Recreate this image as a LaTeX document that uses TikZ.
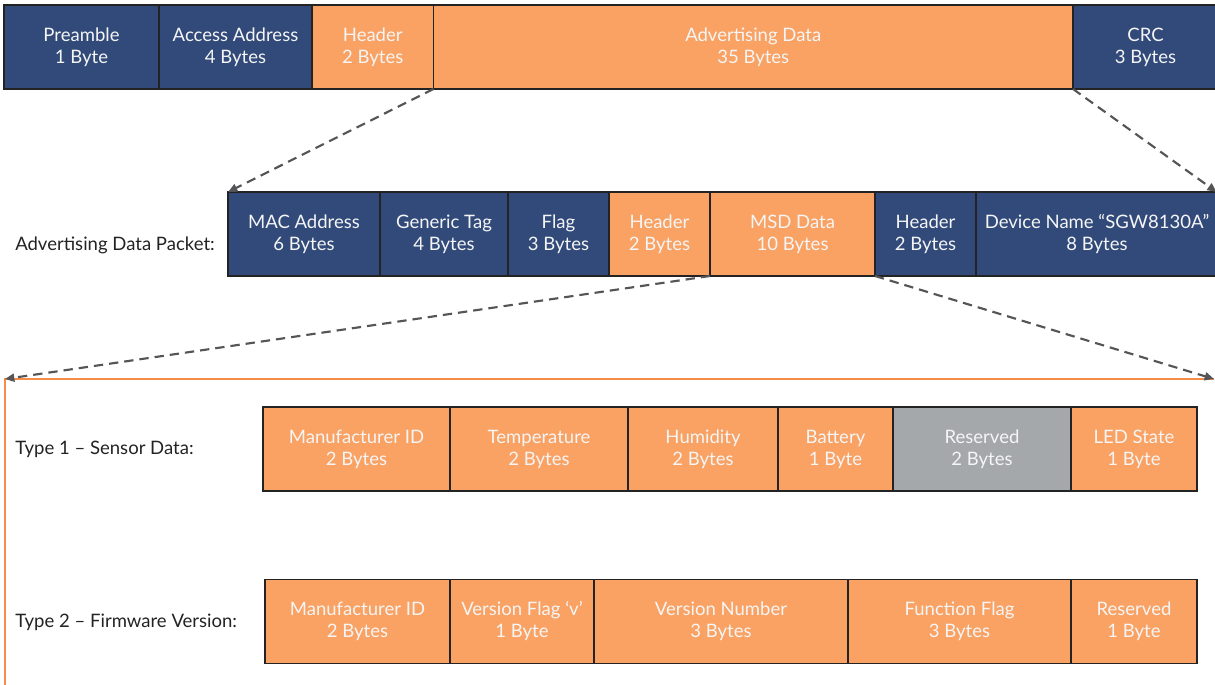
\documentclass[tikz,border=0pt]{standalone}
\usepackage{fontspec}
\setmainfont{Lato}
\usepackage{tikz}
\usetikzlibrary{arrows.meta,positioning}
\usepackage{xcolor}
\definecolor{ink}{RGB}{35,35,35}
\definecolor{navy}{RGB}{49,74,122}
\definecolor{peach}{RGB}{249,162,99}
\definecolor{stone}{RGB}{165,168,171}
\definecolor{slate}{RGB}{85,85,88}
\definecolor{rim}{RGB}{246,140,70}
\newlength{\pix}
\setlength{\pix}{0.75pt}
\tikzset{
  field/.style={draw=ink,line width=0.8pt,minimum height=84\pix,inner sep=0pt,
    outer sep=0pt,align=center,text=white!96!black,
    font=\fontsize{13.9}{16.5}\selectfont},
  navyfld/.style={field,fill=navy},
  peachfld/.style={field,fill=peach},
  stonefld/.style={field,fill=stone},
  rowlbl/.style={anchor=west,inner sep=0pt,text=ink,font=\fontsize{13.9}{16.5}\selectfont},
  zoomarr/.style={-{Triangle[length=7pt,width=6pt]},line width=1.6pt,draw=slate,
    dash pattern=on 7pt off 4.5pt},
  rimline/.style={rim,line width=1pt},
}

\begin{document}
\begin{tikzpicture}[x=\pix,y=-\pix]
  \useasboundingbox (0,0) rectangle (1215,685);
  % air packet
  \node[navyfld,anchor=west,minimum width=155\pix] (pre) at (4,47) {Preamble\\1 Byte};
  \node[navyfld,minimum width=153\pix,right=0pt of pre] (acc) {Access Address\\4 Bytes};
  \node[peachfld,minimum width=121.5\pix,right=0pt of acc] (hdr) {Header\\2 Bytes};
  \node[peachfld,minimum width=639.5\pix,right=0pt of hdr] (adv) {Advertising Data\\35 Bytes};
  \node[navyfld,minimum width=145\pix,right=0pt of adv] (crc) {CRC\\3 Bytes};

  % advertising data
  \node[rowlbl] (advlbl) at (15,245) {Advertising Data Packet:};
  \node[navyfld,anchor=west,minimum width=152\pix] (mac) at (228,234) {MAC Address\\6 Bytes};
  \node[navyfld,minimum width=128\pix,right=0pt of mac] (tag) {Generic Tag\\4 Bytes};
  \node[navyfld,minimum width=101\pix,right=0pt of tag] (flag) {Flag\\3 Bytes};
  \node[peachfld,minimum width=101\pix,right=0pt of flag] (mhdr) {Header\\2 Bytes};
  \node[peachfld,minimum width=165\pix,right=0pt of mhdr] (msd) {MSD Data\\10 Bytes};
  \node[navyfld,minimum width=101\pix,right=0pt of msd] (nhdr) {Header\\2 Bytes};
  \node[navyfld,minimum width=242\pix,right=0pt of nhdr] (name) {Device Name “SGW8130A”\\8 Bytes};

  % MSD layouts
  \coordinate (fanL) at (5,379);
  \coordinate (fanR) at (1214,379);
  \coordinate (fanB) at (5,690);
  \draw[rimline] (fanR) -- (fanL) -- (fanB);

  \node[rowlbl] (t1lbl) at (15,449) {Type 1 – Sensor Data:};
  \node[peachfld,anchor=west,minimum width=187\pix] (mfr1) at (263,449) {Manufacturer ID\\2 Bytes};
  \node[peachfld,minimum width=178\pix,right=0pt of mfr1] (temp) {Temperature\\2 Bytes};
  \node[peachfld,minimum width=150\pix,right=0pt of temp] (hum) {Humidity\\2 Bytes};
  \node[peachfld,minimum width=115\pix,right=0pt of hum] (batt) {Battery\\1 Byte};
  \node[stonefld,minimum width=178\pix,right=0pt of batt] (rsv1) {Reserved\\2 Bytes};
  \node[peachfld,minimum width=126\pix,right=0pt of rsv1] (led) {LED State\\1 Byte};

  \node[rowlbl] (t2lbl) at (15,622) {Type 2 – Firmware Version:};
  \node[peachfld,anchor=west,minimum width=185\pix] (mfr2) at (265,621.5) {Manufacturer ID\\2 Bytes};
  \node[peachfld,minimum width=144\pix,right=0pt of mfr2] (vflag) {Version Flag ‘v’\\1 Byte};
  \node[peachfld,minimum width=254\pix,right=0pt of vflag] (vnum) {Version Number\\3 Bytes};
  \node[peachfld,minimum width=223\pix,right=0pt of vnum] (func) {Function Flag\\3 Bytes};
  \node[peachfld,minimum width=126\pix,right=0pt of func] (rsv2) {Reserved\\1 Byte};

  % zoom-in arrows
  \draw[zoomarr] (adv.south west) -- (mac.north west);
  \draw[zoomarr] (adv.south east) -- ([xshift=-1pt]name.north east);
  \draw[zoomarr] (msd.south west) -- (fanL);
  \draw[zoomarr] (msd.south east) -- (fanR);
\end{tikzpicture}
\end{document}
